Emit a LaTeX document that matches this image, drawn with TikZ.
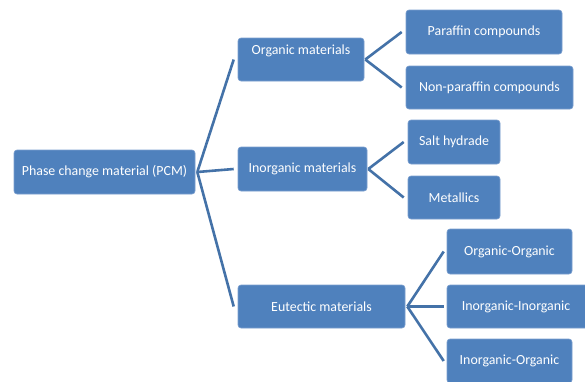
\documentclass[tikz,border=0pt]{standalone}
\usepackage{fontspec}
\setmainfont{Carlito}
\usepackage{tikz}
\definecolor{boxblue}{HTML}{4F81BD}
\definecolor{boxedge}{HTML}{7C9FCF}
\definecolor{linkblue}{HTML}{4472A8}

\begin{document}
\begin{tikzpicture}[x=1pt,y=-1pt]
	\tikzstyle{box}=[draw=boxedge,line width=0.6pt,fill=boxblue,rounded corners=3pt,text=white,font=\fontsize{13.9}{15}\selectfont,inner sep=0pt]
	\tikzstyle{link}=[draw=linkblue,line width=2.6pt]
	\clip (0,0) rectangle (585,381);
	\fill [white] (0,0) rectangle (585,381);
	\node [box,minimum width=181pt,minimum height=44pt] (pcm) at (104.5,172) {Phase change material (PCM)};
	\node [box,minimum width=126pt,minimum height=43pt,text depth=20pt] (org) at (301,59.5) {Organic materials};
	\node [box,minimum width=129pt,minimum height=44pt] (inorg) at (302.5,169) {Inorganic materials};
	\node [box,minimum width=167pt,minimum height=43pt] (eut) at (321.5,306.5) {Eutectic materials};
	\node [box,minimum width=156pt,minimum height=44pt] (par) at (484,32) {Paraffin compounds};
	\node [box,minimum width=167pt,minimum height=43pt] (npar) at (489.5,87.5) {Non-paraffin compounds};
	\node [box,minimum width=92pt,minimum height=44pt] (salt) at (454,142) {Salt hydrade};
	\node [box,minimum width=92pt,minimum height=43pt] (metal) at (454,197.5) {Metallics};
	\node [box,minimum width=125pt,minimum height=45pt] (oo) at (509.5,251.5) {Organic-Organic};
	\node [box,minimum width=142pt,minimum height=43pt] (ii) at (518,306.5) {\hspace*{-4pt}Inorganic-Inorganic};
	\node [box,minimum width=125pt,minimum height=44pt] (io) at (509.5,361) {Inorganic-Organic};
	\draw [link] ([xshift=2pt]pcm.east) -- ([xshift=-4pt]org.west);
	\draw [link] ([xshift=2pt]pcm.east) -- ([xshift=-4pt]inorg.west);
	\draw [link] ([xshift=2pt]pcm.east) -- ([xshift=-4pt]eut.west);
	\draw [link] ([xshift=1pt]org.east) -- ([xshift=-4pt]par.west);
	\draw [link] ([xshift=1pt]org.east) -- ([xshift=-4pt]npar.west);
	\draw [link] ([xshift=1pt]inorg.east) -- ([xshift=-4pt]salt.west);
	\draw [link] ([xshift=1pt]inorg.east) -- ([xshift=-4pt]metal.west);
	\draw [link] ([xshift=2pt]eut.east) -- ([xshift=-3pt]oo.west);
	\draw [link] ([xshift=2pt]eut.east) -- ([xshift=-3pt]ii.west);
	\draw [link] ([xshift=2pt]eut.east) -- ([xshift=-3pt]io.west);
\end{tikzpicture}
\end{document}
